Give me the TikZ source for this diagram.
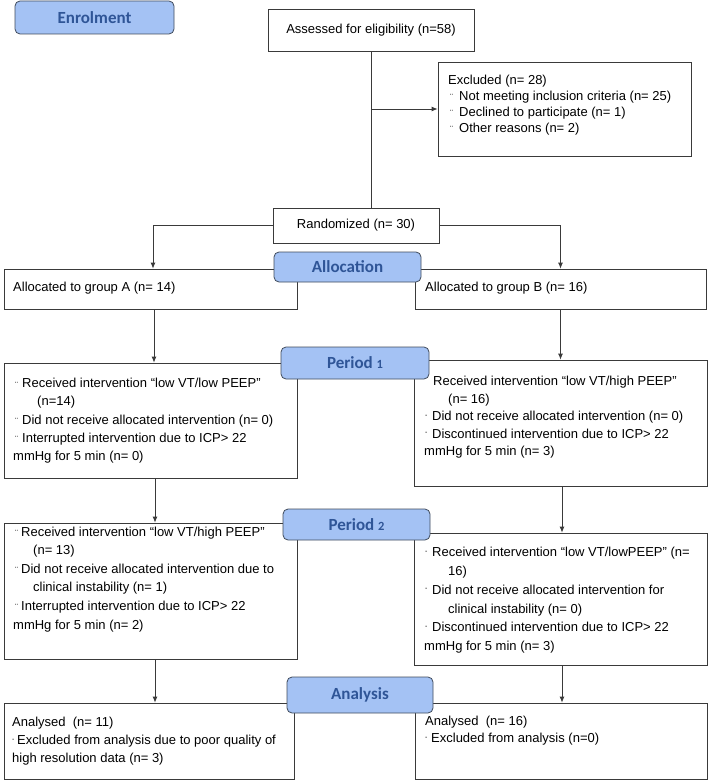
\documentclass[tikz,border=0pt]{standalone}
\usepackage{fontspec}
\setmainfont{Liberation Sans}
\newfontfamily\labfont{Carlito}
\usetikzlibrary{arrows.meta}
\definecolor{labfill}{HTML}{A4C2F4}
\definecolor{labtext}{HTML}{2F5597}
\definecolor{labdraw}{HTML}{404B5C}
\definecolor{boxdraw}{HTML}{3A3A3A}
\newcommand{\bdt}{\raisebox{-0.5pt}{\fontsize{9}{9}\selectfont ¨}}
\newcommand{\bds}{\raisebox{3.5pt}{\fontsize{7}{7}\selectfont -}}
\newcommand{\osone}{{\fontsize{12.5}{12.5}\selectfont 1}}
\newcommand{\ostwo}{{\fontsize{12.5}{12.5}\selectfont 2}}
\begin{document}
\begin{tikzpicture}[x=1pt,y=-1pt,
  box/.style={draw=boxdraw, line width=0.8pt, rectangle, inner sep=0pt, fill=white},
  lab/.style={draw=labdraw, fill=labfill, rounded corners=5pt, line width=0.8pt,
    font=\labfont\bfseries\fontsize{17}{17}\selectfont, text=labtext, inner sep=0pt},
  txt/.style={inner sep=0pt, anchor=north west, align=left},
  one/.style={inner sep=0pt, anchor=base west, font=\fontsize{13}{16}\selectfont},
  conn/.style={draw=boxdraw, line width=0.8pt},
  arr/.style={conn, -{Latex[length=6pt,width=5pt]}}]
\useasboundingbox (0,0) rectangle (708,781);

% boxes
\node[box, minimum width=206pt, minimum height=42pt, font=\fontsize{13}{16}\selectfont] (assessed) at (371,30) {Assessed for eligibility (n=58)};
\node[box, minimum width=253pt, minimum height=94pt] (excluded) at (564.5,109) {};
\node[box, minimum width=166pt, minimum height=35pt, font=\fontsize{13}{16}\selectfont] (randomized) at (356,225.5) {Randomized (n= 30)};
\node[box, minimum width=293pt, minimum height=40pt] (allocA) at (150.5,289) {};
\node[box, minimum width=291pt, minimum height=40pt] (allocB) at (560.5,289) {};
\node[box, minimum width=293pt, minimum height=115pt] (p1A) at (150.5,420.5) {};
\node[box, minimum width=293pt, minimum height=126pt] (p1B) at (560.5,423) {};
\node[box, minimum width=293pt, minimum height=136pt] (p2A) at (150.5,591) {};
\node[box, minimum width=293pt, minimum height=132pt] (p2B) at (560.5,599) {};
\node[box, minimum width=290pt, minimum height=76pt] (anA) at (149,741) {};
\node[box, minimum width=292pt, minimum height=76pt] (anB) at (561,741) {};

% texts
\node[txt, font=\fontsize{13}{16}\selectfont] (excludedtxt) at (448,72.8) {\strut Excluded (n= 28)\\
\hspace*{2pt}\makebox[9pt][l]{\bdt}Not meeting inclusion criteria (n= 25)\\
\hspace*{2pt}\makebox[9pt][l]{\bdt}Declined to participate (n= 1)\\
\hspace*{2pt}\makebox[9pt][l]{\bdt}Other reasons (n= 2)};

\node[one] (allocAtxt) at (13,291.5) {Allocated to group A (n= 14)};
\node[one] (allocBtxt) at (425,291.5) {Allocated to group B (n= 16)};

\node[txt, font=\fontsize{13}{18.2}\selectfont] (p1Atxt) at (13,374.8) {\strut\hspace*{2pt}\makebox[7pt][l]{\bdt}Received intervention “low VT/low PEEP”\\
\hspace*{24pt}(n=14)\\
\hspace*{2pt}\makebox[7pt][l]{\bdt}Did not receive allocated intervention (n= 0)\\
\hspace*{2pt}\makebox[7pt][l]{\bdt}Interrupted intervention due to ICP> 22\\
mmHg for 5 min (n= 0)};

\node[txt, font=\fontsize{13}{17.5}\selectfont] (p1Btxt) at (424,373.3) {\strut\hspace*{9pt}Received intervention “low VT/high PEEP"\\
\hspace*{24pt}(n= 16)\\
\hspace*{1pt}\makebox[7pt][l]{\bds}Did not receive allocated intervention (n= 0)\\
\hspace*{1pt}\makebox[7pt][l]{\bds}Discontinued intervention due to ICP> 22\\
mmHg for 5 min (n= 3)};

\node[txt, font=\fontsize{13}{18.6}\selectfont] (p2Atxt) at (13,522.8) {\strut\hspace*{2pt}\makebox[6pt][l]{\bdt}Received intervention “low VT/high PEEP”\\
\hspace*{20pt}(n= 13)\\
\hspace*{2pt}\makebox[6pt][l]{\bdt}Did not receive allocated intervention due to\\
\hspace*{20pt}clinical instability (n= 1)\\
\hspace*{2pt}\makebox[6pt][l]{\bdt}Interrupted intervention due to ICP> 22\\
mmHg for 5 min (n= 2)};

\node[txt, font=\fontsize{13}{18.8}\selectfont] (p2Btxt) at (424,543.3) {\strut\hspace*{1pt}\makebox[7pt][l]{\bds}Received intervention “low VT/lowPEEP” (n=\\
\hspace*{24pt}16)\\
\hspace*{1pt}\makebox[7pt][l]{\bds}Did not receive allocated intervention for\\
\hspace*{24pt}clinical instability (n= 0)\\
\hspace*{1pt}\makebox[7pt][l]{\bds}Discontinued intervention due to ICP> 22\\
mmHg for 5 min (n= 3)};

\node[txt, font=\fontsize{13}{18}\selectfont] (anAtxt) at (12,713.9) {\strut Analysed\ \ (n= 11)\\
\makebox[5pt][l]{\bds}Excluded from analysis due to poor quality of\\
high resolution data (n= 3)};

\node[txt, font=\fontsize{13}{17}\selectfont] (anBtxt) at (425,713.6) {\strut Analysed\ \ (n= 16)\\
\makebox[6pt][l]{\bds}Excluded from analysis (n=0)};

% connectors
\draw[conn] (assessed.south) -- (assessed.south |- randomized.north);
\draw[arr] (assessed.south |- excluded.west) -- (excluded.west);
\draw[arr] (randomized.west) -| ([xshift=2.5pt]allocA.north);
\draw[arr] (randomized.east) -| (allocB.north);
\draw[arr] ([xshift=3.5pt]allocA.south) -- ([xshift=3.5pt]p1A.north);
\draw[arr] (allocB.south) -- (p1B.north);
\draw[arr] ([xshift=4.5pt]p1A.south) -- ([xshift=4.5pt]p2A.north);
\draw[arr] ([xshift=1.5pt]p1B.south) -- ([xshift=1.5pt]p2B.north);
\draw[arr] ([xshift=4.5pt]p2A.south) -- ([xshift=4.5pt]p2A.south |- anA.north);
\draw[arr] ([xshift=1.5pt]p2B.south) -- ([xshift=1.5pt]p2B.south |- anB.north);

% labels
\node[lab, minimum width=159pt, minimum height=33pt] (enrol) at (94.5,17.5) {Enrolment};
\node[lab, minimum width=147pt, minimum height=30pt] (allocation) at (347.5,267) {Allocation};
\node[lab, minimum width=148pt, minimum height=32pt] (period1) at (355,363) {Period \osone};
\node[lab, minimum width=147pt, minimum height=31pt] (period2) at (356.5,524.5) {Period \ostwo};
\node[lab, minimum width=146pt, minimum height=36pt] (analysis) at (360,695) {Analysis};
\end{tikzpicture}
\end{document}
